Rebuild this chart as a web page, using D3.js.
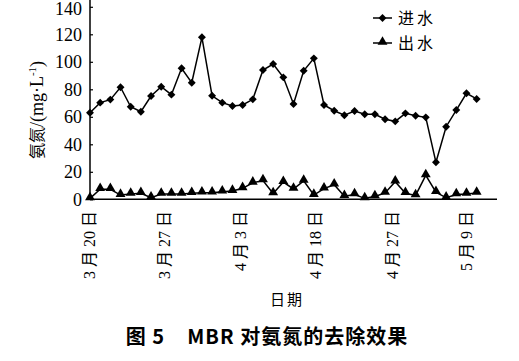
<!DOCTYPE html>
<html>
<head>
<meta charset="utf-8">
<script src="https://cdn.jsdelivr.net/npm/d3@7"></script>
<style>
  body { margin: 0; background: #fff; }
  svg { display: block; }
  text, tspan { fill: #000; }
</style>
</head>
<body>
<div id="chart"></div>
<script>
// readings (mg/L), one per sampling day
var inflow = [63, 70.3, 72.5, 81.5, 67.3, 63.7, 75.1, 81.9, 76.1, 95.3, 84.8, 117.8, 75.3,
  70.3, 67.9, 68.6, 72.7, 94, 98.4, 88.7, 69.3, 93.5, 102.5, 68.6, 64.4, 61.1, 64.2,
  61.8, 61.8, 58.2, 56.7, 62.5, 60.8, 59.6, 26.9, 52.8, 64.9, 77.1, 73];
var outflow = [0.7, 7.3, 7.3, 3.1, 3.9, 4.4, 1.2, 3.9, 3.9, 3.9, 4.4, 4.8, 4.8,
  5.5, 6, 8, 12, 13.7, 4.2, 12.5, 7.5, 13.4, 3.1, 7.8, 10.6, 2.2, 3.5,
  0.7, 2.1, 4.6, 12.8, 4.4, 2.8, 17.4, 5.2, 1.1, 3.5, 3.9, 4.6];
var dateLabels = ["3 月 20 日", "3 月 27 日", "4 月 3 日", "4 月 18 日", "4 月 27 日", "5 月 9 日"];
var dateLabelAt = [0, 7.4, 14.8, 22.2, 29.8, 37.1];
var yTicks = [0, 20, 40, 60, 80, 100, 120, 140];
var seriesNames = ["进水", "出水"];

var width = 519, height = 361;
var svg = d3.select('#chart').append('svg')
  .attr('width', width)
  .attr('height', height);

var x = d3.scaleLinear().domain([0, 40]).range([90, 497]);
var y = d3.scaleLinear().domain([0, 140]).range([199.3, 6.8]);

var serif = "'Liberation Serif', 'Noto Sans CJK SC', serif";
var cjk = "'Noto Sans CJK SC', sans-serif";

// y axis
var yAxis = svg.append('g')
  .attr('transform', 'translate(90,0)')
  .call(d3.axisRight(y).tickValues(yTicks).tickSize(3).tickFormat(d3.format('d')));
yAxis.select('.domain').remove();
yAxis.selectAll('line').attr('stroke', '#000').attr('stroke-width', 1.2);
yAxis.selectAll('text')
  .attr('x', -8)
  .attr('dy', function (d) { return d === 140 ? '0.42em' : '0.32em'; })
  .attr('text-anchor', 'end')
  .style('font-family', serif)
  .style('font-size', '18px');
svg.append('line')
  .attr('x1', 90).attr('x2', 90)
  .attr('y1', 0).attr('y2', y(0))
  .attr('stroke', '#000').attr('stroke-width', 1.5);

// x axis
svg.append('line')
  .attr('x1', x(0)).attr('x2', x(40))
  .attr('y1', y(0)).attr('y2', y(0))
  .attr('stroke', '#000').attr('stroke-width', 1.6);

svg.selectAll('text.date')
  .data(dateLabels)
  .enter()
  .append('text')
  .classed('date', true)
  .attr('transform', function (d, i) { return 'translate(' + (x(dateLabelAt[i]) + 5) + ',211) rotate(-90)'; })
  .attr('text-anchor', 'end')
  .style('font-family', serif)
  .style('font-size', '16px')
  .text(function (d) { return d; });

svg.append('text')
  .attr('x', 287).attr('y', 305)
  .attr('text-anchor', 'middle')
  .style('font-family', cjk)
  .style('font-size', '15px')
  .style('letter-spacing', '2px')
  .text('日期');

// y label
var yl = svg.append('text')
  .attr('transform', 'translate(43,110) rotate(-90)')
  .attr('text-anchor', 'middle')
  .style('font-family', serif)
  .style('font-size', '18px');
yl.append('tspan').style('font-family', cjk).style('font-size', '16px').text('氨氮');
yl.append('tspan').text('/(mg·L');
yl.append('tspan').attr('dy', -7).style('font-size', '11px').text('-1');
yl.append('tspan').attr('dy', 7).text(')');

// lines
var line = d3.line()
  .x(function (d, i) { return x(i); })
  .y(function (d) { return y(d); });

[inflow, outflow].forEach(function (s) {
  svg.append('path')
    .datum(s)
    .attr('d', line)
    .attr('fill', 'none')
    .attr('stroke', '#000')
    .attr('stroke-width', 1.5);
});

var diamond = d3.symbol().type(d3.symbolDiamond2).size(40);
var triangle = d3.symbol().type(d3.symbolTriangle).size(42);

svg.selectAll('path.in')
  .data(inflow)
  .enter()
  .append('path')
  .classed('in', true)
  .attr('d', diamond)
  .attr('transform', function (d, i) { return 'translate(' + x(i) + ',' + y(d) + ')'; })
  .attr('fill', '#000');

svg.selectAll('path.out')
  .data(outflow)
  .enter()
  .append('path')
  .classed('out', true)
  .attr('d', triangle)
  .attr('transform', function (d, i) { return 'translate(' + x(i) + ',' + (y(d) - 1) + ')'; })
  .attr('fill', '#000');

// legend
var legend = svg.append('g');
seriesNames.forEach(function (name, i) {
  var ly = 18 + i * 25;
  legend.append('line')
    .attr('x1', 373).attr('x2', 392)
    .attr('y1', ly).attr('y2', ly)
    .attr('stroke', '#000').attr('stroke-width', 1.5);
  legend.append('path')
    .attr('d', i === 0 ? diamond : triangle)
    .attr('transform', 'translate(382.5,' + (i === 0 ? ly : ly - 1) + ')')
    .attr('fill', '#000');
  legend.append('text')
    .attr('x', 398).attr('y', ly + 6)
    .style('font-family', cjk)
    .style('font-size', '16px')
    .style('letter-spacing', '3px')
    .text(name);
});

// caption
svg.append('text')
  .attr('x', 267).attr('y', 344)
  .attr('text-anchor', 'middle')
  .style('font-family', cjk)
  .style('font-size', '20px')
  .style('font-weight', 'bold')
  .style('letter-spacing', '1px')
  .attr('xml:space', 'preserve')
  .text('图 5    MBR 对氨氮的去除效果');
</script>
</body>
</html>
